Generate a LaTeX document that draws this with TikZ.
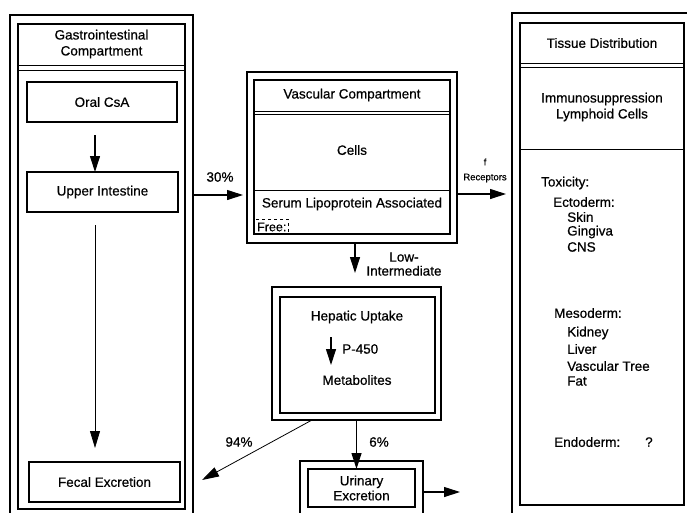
\documentclass[tikz,border=0pt]{standalone}
\usepackage{fontspec}
\setmainfont{Liberation Sans}[FakeBold=0.6]
\usetikzlibrary{arrows.meta,calc}
\begin{document}
\begin{tikzpicture}[x=1pt,y=-1pt,
  bx/.style 2 args={draw,line width=1.2pt,inner sep=0pt,outer sep=0pt,minimum width=#1pt,minimum height=#2pt},
  lbl/.style={font=\fontsize{13.5}{16}\selectfont,align=center,inner sep=0pt},
  lst/.style={font=\fontsize{13.5}{16}\selectfont,anchor=west,inner sep=0pt},
  sml/.style={font=\fontsize{9.5}{11}\selectfont,inner sep=0pt},
  arr/.style={-{Triangle[length=16pt,width=10pt]},line width=1.1pt},
  thinarr/.style={-{Triangle[length=17pt,width=10pt]},line width=0.8pt},
  sepline/.style={line width=1pt}]
\useasboundingbox (0,0) rectangle (687,512);
\clip (0,0) rectangle (687,512);

% ---------- Gastrointestinal compartment ----------
\node[bx={183}{499}] (GIout) at (101.5,264.5) {};
\node[bx={167}{485}] (GIin) at (101.5,266.5) {};
\draw[sepline] (GIin.west |- 0,65) -- (GIin.east |- 0,65);
\draw[sepline] (GIin.west |- 0,70) -- (GIin.east |- 0,70);
\node[lbl] (GIhead) at (101.5,44) {Gastrointestinal\\Compartment};
\node[bx={150}{40},lbl] (oral) at (102,102) {Oral CsA};
\node[bx={151}{40},lbl] (upper) at (102.5,192) {Upper Intestine};
\node[bx={151}{40},lbl] (fecal) at (104.5,482) {Fecal Excretion};
\draw[arr,shorten <=13pt] ([xshift=-7pt]oral.south) -- ([xshift=-7pt]oral.south |- upper.north);
\draw[thinarr,shorten <=13pt,shorten >=14pt] ([xshift=-7.5pt]upper.south) -- ([xshift=-7.5pt]upper.south |- fecal.north);

% ---------- Vascular compartment ----------
\node[bx={210}{171}] (VCout) at (352,157.5) {};
\node[bx={196}{154}] (VCin) at (352,157) {};
\draw[sepline] (VCin.west |- 0,111) -- (VCin.east |- 0,111);
\draw[sepline] (VCin.west |- 0,114) -- (VCin.east |- 0,114);
\draw[sepline] (VCin.west |- 0,190) -- (VCin.east |- 0,190);
\node[lbl] (VChead) at (352,95) {Vascular Compartment};
\node[lbl] (cells) at (352,150) {Cells};
\node[lbl] (serum) at (352,204) {Serum Lipoprotein Associated};
\node[draw,dashed,line width=0.9pt,inner sep=0pt,outer sep=0pt,minimum width=34pt,minimum height=15pt,anchor=south west] (freebox) at (VCin.south west) {};
\node[font=\fontsize{12.5}{14}\selectfont,inner sep=0pt,anchor=west] (free) at (257,227) {Free:};

\coordinate (y30) at (0,195);
\draw[arr] (GIout.east |- y30) -- ([xshift=-4pt]VCout.west |- y30);
\node[lbl] (p30) at (220,177) {30\%};

% ---------- Tissue distribution ----------
\node[bx={183}{501}] (TDout) at (603.5,263.5) {};
\node[bx={164}{482}] (TDin) at (602,264) {};
\draw[sepline] (TDin.west |- 0,63) -- (TDin.east |- 0,63);
\draw[sepline] (TDin.west |- 0,67) -- (TDin.east |- 0,67);
\draw[sepline] (TDin.west |- 0,149) -- (TDin.east |- 0,149);
\node[lbl] (TDhead) at (602,43) {Tissue Distribution};
\node[lbl] (immuno) at (602,107) {Immunosuppression\\Lymphoid Cells};
\node[lst] (tox) at (541,183) {Toxicity:};
\node[lst] (ecto) at (553,202) {Ectoderm:};
\node[lst] (skin) at (567,217) {Skin};
\node[lst] (ging) at (567,232) {Gingiva};
\node[lst] (cns) at (567,247) {CNS};
\node[lst] (meso) at (554,313) {Mesoderm:};
\node[lst] (kid) at (567,333) {Kidney};
\node[lst] (liver) at (567,349) {Liver};
\node[lst] (vtree) at (567,366) {Vascular Tree};
\node[lst] (fat) at (567,381) {Fat};
\node[lst] (endo) at (554,442) {Endoderm:};
\node[lst] (qm) at (645,442) {?};

\coordinate (yrec) at (0,194);
\draw[arr] (VCout.east |- yrec) -- ([xshift=-6pt]TDout.west |- yrec);
\node[sml] (f) at (485,162) {f};
\node[sml] (rec) at (485,178) {Receptors};

% ---------- Hepatic ----------
\node[bx={169}{133}] (HPout) at (356.5,353.5) {};
\node[bx={155}{116}] (HPin) at (357.5,355) {};
\node[lbl] (hepatic) at (357,317) {Hepatic Uptake};
\node[lbl,anchor=west] (p450) at (342,349) {P-450};
\node[lbl] (metab) at (357,380) {Metabolites};
\coordinate (pa) at (331,337);
\coordinate (pb) at (331,365);
\draw[arr] (pa) -- (pb);

\draw[arr] ([xshift=3pt]VCout.south) -- ([xshift=3pt,yshift=14pt]VCout.south |- HPout.north);
\node[lbl,font=\fontsize{13.5}{14}\selectfont] (lowint) at (404,264) {Low-\\Intermediate};

% ---------- Urinary ----------
\node[bx={123}{55}] (URout) at (361.5,488.5) {};
\node[bx={107}{38},lbl,font=\fontsize{13.5}{15}\selectfont] (URin) at (361.5,488) {Urinary\\Excretion};
\draw[arr] (HPout.south) -- ([yshift=-8pt]URout.north -| HPout.south);
\node[lbl] (p6) at (379,442) {6\%};
\coordinate (yur) at (0,492);
\draw[arr] (URout.east |- yur) -- (460,492) coordinate (urend);

\coordinate (f94) at (202,480);
\draw[thinarr] ([xshift=-44.5pt]HPout.south) -- (f94);
\node[lbl] (p94) at (239,442) {94\%};
\end{tikzpicture}
\end{document}
